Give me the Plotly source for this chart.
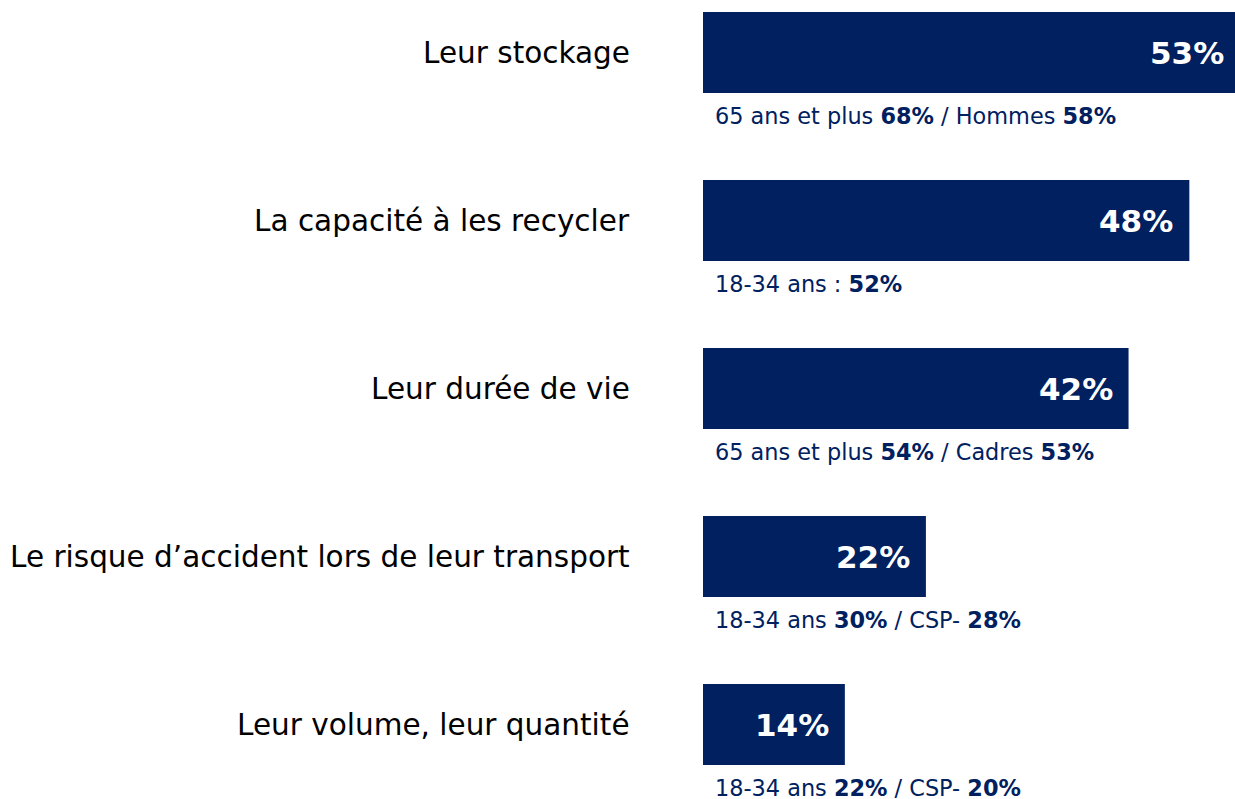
import plotly.graph_objects as go

categories = [
    "Leur stockage",
    "La capacité à les recycler",
    "Leur durée de vie",
    "Le risque d’accident lors de leur transport",
    "Leur volume, leur quantité",
]
values = [53, 48, 42, 22, 14]
sub_labels = [
    "65 ans et plus <b>68%</b> / Hommes <b>58%</b>",
    "18-34 ans : <b>52%</b>",
    "65 ans et plus <b>54%</b> / Cadres <b>53%</b>",
    "18-34 ans <b>30%</b> / CSP- <b>28%</b>",
    "18-34 ans <b>22%</b> / CSP- <b>20%</b>",
]

NAVY = "#002060"
FONT = "Verdana, DejaVu Sans, sans-serif"
idx = list(range(len(categories)))

fig = go.Figure()
fig.add_trace(go.Bar(
    x=values, y=idx, orientation="h",
    marker=dict(color=NAVY, line=dict(width=0)),
    width=0.482, hoverinfo="skip",
))

annotations = []
for i, (v, s) in enumerate(zip(values, sub_labels)):
    annotations.append(dict(
        x=v, y=i, xref="x", yref="y", text=f"<b>{v}%</b>",
        showarrow=False, xanchor="right", yanchor="middle", xshift=-14,
        font=dict(family=FONT, size=31, color="white"),
    ))
    annotations.append(dict(
        x=0, y=i + 0.38, xref="x", yref="y", text=s,
        showarrow=False, xanchor="left", yanchor="middle", xshift=10,
        font=dict(family=FONT, size=22.4, color=NAVY),
    ))
    annotations.append(dict(
        x=0, y=i, xref="paper", yref="y", text=categories[i],
        showarrow=False, xanchor="right", yanchor="middle", xshift=-71,
        font=dict(family=FONT, size=29.5, color="black"),
    ))

fig.update_layout(
    width=1240, height=799,
    margin=dict(l=703, r=0, t=0, b=0),
    paper_bgcolor="white", plot_bgcolor="white",
    showlegend=False,
    xaxis=dict(range=[0, 53], visible=False, fixedrange=True),
    yaxis=dict(range=[4.443, -0.3125], visible=False, fixedrange=True),
    annotations=annotations,
)

fig.write_html(
    "out.html",
    config={"displayModeBar": False},
    post_script="document.body.style.margin='0';document.body.style.overflow='hidden';",
)
